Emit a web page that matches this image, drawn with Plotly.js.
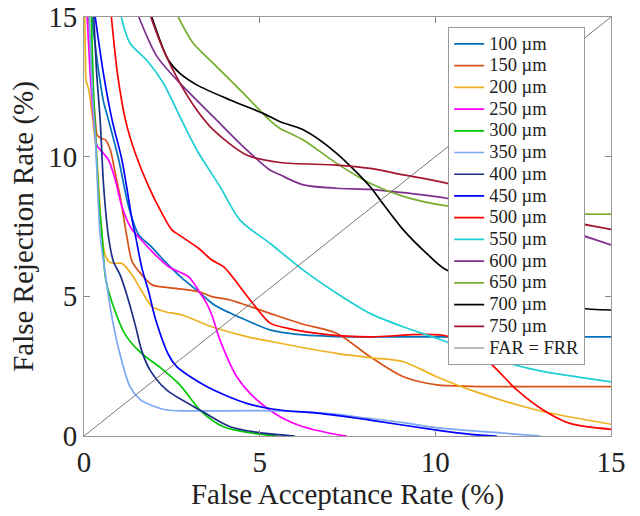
<!DOCTYPE html>
<html>
<head>
<meta charset="utf-8">
<script src="https://cdn.plot.ly/plotly-3.0.1.min.js"></script>
<style>html,body{margin:0;padding:0;background:#fff;}#chart{width:640px;height:516px;}</style>
</head>
<body>
<div id="chart"></div>
<script>
// Series names
const seriesNames = ["100 µm","150 µm","200 µm","250 µm","300 µm","350 µm","400 µm","450 µm","500 µm","550 µm","600 µm","650 µm","700 µm","750 µm"];
const diagName = "FAR = FRR";
const tickVals = [0, 5, 10, 15];

// FAR (x, %) and FRR (y, %)
const x100 = [0.22,0.40,0.55,0.70,0.99,1.27,1.56,1.90,2.31,2.79,3.26,3.70,4.16,4.70,5.29,5.80,6.24,7.0,8.0,10,12,15];
const y100 = [15,13.2,12.0,11.3,9.88,8.21,7.2,6.8,6.24,5.65,5.17,4.7,4.4,4.1,3.8,3.68,3.62,3.57,3.55,3.55,3.55,3.55];

const x150 = [0.13,0.25,0.33,0.37,0.50,0.61,0.75,0.89,1.03,1.22,1.37,1.65,1.94,2.41,3.26,3.64,4.16,5.29,5.58,6.24,7.19,8.14,9.09,10.04,11.0,11.94,15];
const y150 = [15,12.5,11.2,10.78,10.65,10.6,10.24,9.4,8.57,7.14,6.24,5.76,5.41,5.31,5.17,4.99,4.87,4.39,4.27,4.0,3.68,2.84,2.12,1.83,1.78,1.77,1.77];

const x200 = [0.02,0.04,0.06,0.13,0.25,0.36,0.42,0.51,0.60,0.70,0.84,1.08,1.37,1.65,1.94,2.31,2.79,3.64,4.63,5.58,7.19,8.2,9.09,10.04,10.99,12.88,15];
const y200 = [15,13.5,12.72,12.42,11.3,10.0,8.93,7.2,6.5,6.25,6.18,6.18,5.76,5.17,4.63,4.45,4.33,3.91,3.56,3.32,2.96,2.8,2.66,2.12,1.65,0.93,0.42];

const x250 = [0.09,0.20,0.30,0.37,0.51,0.70,0.89,1.08,1.37,1.50,1.94,2.41,2.98,3.31,3.49,3.64,3.87,4.35,4.92,5.58,6.24,7.0,7.48];
const y250 = [15,12.5,11.0,10.4,10.18,9.88,9.17,8.21,7.38,7.2,6.6,6.06,5.7,5.11,4.75,4.33,3.44,2.12,1.29,0.69,0.33,0.1,0];

const x300 = [0.21,0.28,0.34,0.42,0.52,0.62,0.89,1.18,1.6,2.26,2.73,3.3,3.97,4.8,5.5];
const y300 = [15,12,10.5,8.5,7.1,5.6,4.45,3.62,3.0,2.36,1.83,0.93,0.33,0.1,0];

const x350 = [0.15,0.25,0.33,0.40,0.46,0.61,0.80,1.03,1.31,1.60,1.78,2.35,3.0,5.6,7.0,8.0,9.08,10.0,11.93,13.0];
const y350 = [15,12,10.5,8.5,7.2,5.76,4.21,2.9,1.77,1.3,1.17,0.93,0.9,0.9,0.8,0.65,0.48,0.3,0.1,0];

const x400 = [0.28,0.36,0.46,0.56,0.70,0.84,1.03,1.22,1.46,1.65,1.88,2.35,3.3,4.16,5.1,6.0];
const y400 = [15,13,11.31,8.93,7.1,6.24,5.76,5.05,3.97,3.02,2.36,1.65,0.93,0.33,0.1,0];

const x450 = [0.32,0.55,0.80,1.08,1.37,1.46,1.65,1.84,2.03,2.41,2.64,3.49,4.63,5.58,6.72,8.14,10.04,11.0,11.75];
const y450 = [15,13,11.31,9.88,7.73,7.2,6.0,5.17,4.21,2.9,2.48,1.77,1.17,0.93,0.81,0.57,0.21,0.06,0];

const x500 = [0.78,0.95,1.18,1.46,1.84,2.22,2.5,2.7,3.26,3.64,3.97,4.73,5.29,5.77,7.0,8.14,10.32,11.46,12.32,13.07,13.83,15];
const y500 = [15,13,11.31,10.12,8.93,7.97,7.38,7.2,6.72,6.3,6.06,4.87,4.05,3.86,3.62,3.55,3.58,2.72,1.65,0.93,0.45,0.24];

const x550 = [1.06,1.31,1.78,2.26,2.73,3.21,3.87,4.44,5.29,6.24,7.19,8.14,9.08,10.04,11.46,12.88,15];
const y550 = [15,14.06,13.46,12.63,11.43,10.24,8.93,7.73,6.9,5.94,5.11,4.39,3.91,3.5,2.84,2.36,1.94];

const x600 = [1.56,2.07,2.73,3.68,4.63,5.29,5.58,6.24,7.19,8.14,9.09,10.32,14.12,15];
const y600 = [15,13.6,12.63,11.43,10.24,9.52,9.35,8.99,8.87,8.83,8.71,8.51,7.2,6.84];

const x650 = [2.68,3.11,3.68,4.63,5.29,5.58,6.24,7.19,8.14,9.09,10.32,14.12,15];
const y650 = [15,14.06,13.34,12.15,11.3,11.01,10.6,9.76,9.05,8.58,8.24,7.95,7.94];

const x700 = [1.93,2.4,2.73,3.21,4.16,5.1,5.58,6.24,7.19,8.14,8.43,9.09,9.75,10.32,14.02,15];
const y700 = [15,13.46,12.98,12.57,12.03,11.55,11.25,10.96,10.12,8.93,8.45,7.38,6.54,5.94,4.6,4.51];

const x750 = [1.9,2.26,2.73,3.21,3.68,4.63,5.58,7.19,8.14,9.09,10.32,14.12,15];
const y750 = [15,13.82,12.63,11.67,10.96,10.06,9.79,9.7,9.58,9.35,9.05,7.61,7.4];

const xDiag = [0, 15];
const yDiag = [0, 15];

const xs = [x100,x150,x200,x250,x300,x350,x400,x450,x500,x550,x600,x650,x700,x750];
const ys = [y100,y150,y200,y250,y300,y350,y400,y450,y500,y550,y600,y650,y700,y750];
const colors = ["#0072BD","#D95319","#EDB120","#FF00FF","#00C800","#7BA7F7","#1B2F87","#0000FF","#FF0000","#1CCFD4","#7E2F8E","#77AC30","#000000","#A2142F"];

// legend label: larger visible text, compact row spacing
const lbl = s => '<span style="font-size:18.5px">' + s + '</span>';

const traces = seriesNames.map((n,i)=>({
  type:'scatter', mode:'lines', name:lbl(n), x:xs[i], y:ys[i],
  line:{color:colors[i], width:1.7, shape:'spline', smoothing:0.8}
}));
traces.push({type:'scatter', mode:'lines', name:lbl(diagName), x:xDiag, y:yDiag,
  line:{color:'#555555', width:0.8}});

const font = 'Liberation Serif, Times New Roman, serif';
const axisCommon = {
  range:[0,15], tickvals:tickVals, ticks:'inside', ticklen:6, tickcolor:'#888',
  showline:true, linecolor:'#999', linewidth:1, mirror:'ticks',
  showgrid:false, zeroline:false, automargin:false,
  tickfont:{family:font, size:29, color:'#222'}
};
const layout = {
  width:640, height:516,
  margin:{l:84, r:29, t:17, b:80},
  paper_bgcolor:'#fff', plot_bgcolor:'#fff',
  showlegend:true,
  xaxis:Object.assign({}, axisCommon, {title:{text:'False Acceptance Rate (%)', font:{family:font, size:29, color:'#222'}, standoff:6}}),
  yaxis:Object.assign({}, axisCommon, {title:{text:'False Rejection Rate (%)', font:{family:font, size:29, color:'#222'}, standoff:6}}),
  legend:{x:0.691, y:0.976, xanchor:'left', yanchor:'top', bgcolor:'#fff',
    bordercolor:'#999', borderwidth:1, font:{family:font, size:14.4, color:'#222'},
    tracegroupgap:0, itemwidth:30}
};
Plotly.newPlot('chart', traces, layout, {displayModeBar:false, staticPlot:true});
</script>
</body>
</html>
